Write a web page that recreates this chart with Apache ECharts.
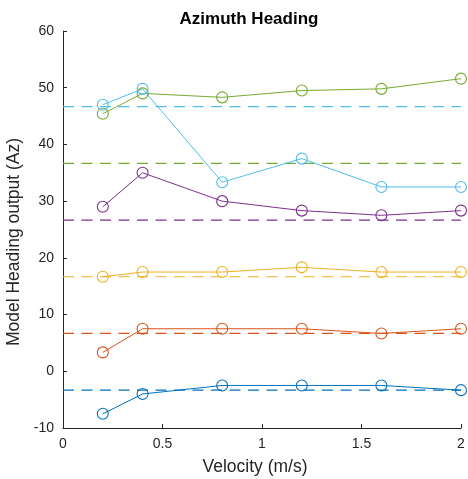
<!DOCTYPE html>
<html><head><meta charset="utf-8">
<script src="https://cdn.jsdelivr.net/npm/echarts@6/dist/echarts.min.js"></script>
<style>html,body{margin:0;padding:0;background:#fff}#c{width:468px;height:479px}</style>
</head><body><div id="c"></div>
<script>
var velocity = [0.2, 0.4, 0.8, 1.2, 1.6, 2.0];
var s1 = [-7.5, -4, -2.5, -2.5, -2.5, -3.33];
var s2 = [3.33, 7.5, 7.5, 7.5, 6.67, 7.5];
var s3 = [16.67, 17.5, 17.5, 18.33, 17.5, 17.5];
var s4 = [29, 35, 30, 28.33, 27.5, 28.33];
var s5 = [45.4, 49, 48.3, 49.5, 49.8, 51.6];
var s6 = [47, 49.8, 33.33, 37.5, 32.5, 32.5];
var refs = [-3.33, 6.67, 16.67, 26.67, 36.67, 46.67];
var colors = ['#0072BD', '#D95319', '#EDB120', '#7E2F8E', '#77AC30', '#4DBEEE'];
var allSeries = [s1, s2, s3, s4, s5, s6];
var xRange = [0, 2];

var series = [];
allSeries.forEach(function (vals, i) {
  series.push({
    type: 'line',
    data: [[xRange[0], refs[i]], [xRange[1], refs[i]]],
    symbol: 'none',
    lineStyle: { color: colors[i], width: 1.2, type: [11, 7.5] },
    silent: true, z: 2
  });
});
allSeries.forEach(function (vals, i) {
  series.push({
    type: 'line',
    data: velocity.map(function (x, j) { return [x, vals[j]]; }),
    symbol: 'circle',
    symbolSize: 11,
    lineStyle: { color: colors[i], width: 1 },
    itemStyle: { color: 'rgba(255,255,255,0)', borderColor: colors[i], borderWidth: 1.1 },
    z: 3
  });
});

var chart = echarts.init(document.getElementById('c'), null, { renderer: 'canvas' });
chart.setOption({
  animation: false,
  backgroundColor: '#fff',
  title: {
    text: 'Azimuth Heading', left: 244, top: 6, textAlign: 'center',
    textStyle: { fontFamily: 'Liberation Sans', fontSize: 17, fontWeight: 'bold', color: '#000' }
  },
  grid: { left: 63, right: 7, top: 31, bottom: 51, containLabel: false, outerBoundsMode: 'none' },
  xAxis: {
    type: 'value', min: 0, max: 2, interval: 0.5,
    name: 'Velocity (m/s)', nameLocation: 'middle', nameGap: 30,
    nameTextStyle: { fontFamily: 'Liberation Sans', fontSize: 17.5, color: '#262626', padding: [0, 14, 0, 0] },
    axisLine: { show: true, onZero: false, lineStyle: { color: '#262626', width: 1 } },
    axisTick: { show: true, inside: true, length: 4, lineStyle: { color: '#262626' } },
    axisLabel: { fontFamily: 'Liberation Sans', fontSize: 14, color: '#262626', margin: 9 },
    splitLine: { show: false }
  },
  yAxis: {
    type: 'value', min: -10, max: 60, interval: 10,
    name: 'Model Heading output (Az)', nameLocation: 'middle', nameGap: 36, nameRotate: 90,
    nameTextStyle: { fontFamily: 'Liberation Sans', fontSize: 17.5, color: '#262626', padding: [0, 25, 0, 0] },
    axisLine: { show: true, onZero: false, lineStyle: { color: '#262626', width: 1 } },
    axisTick: { show: true, inside: true, length: 4, lineStyle: { color: '#262626' } },
    axisLabel: { fontFamily: 'Liberation Sans', fontSize: 14, color: '#262626', margin: 9 },
    splitLine: { show: false }
  },
  series: series
});
</script></body></html>
